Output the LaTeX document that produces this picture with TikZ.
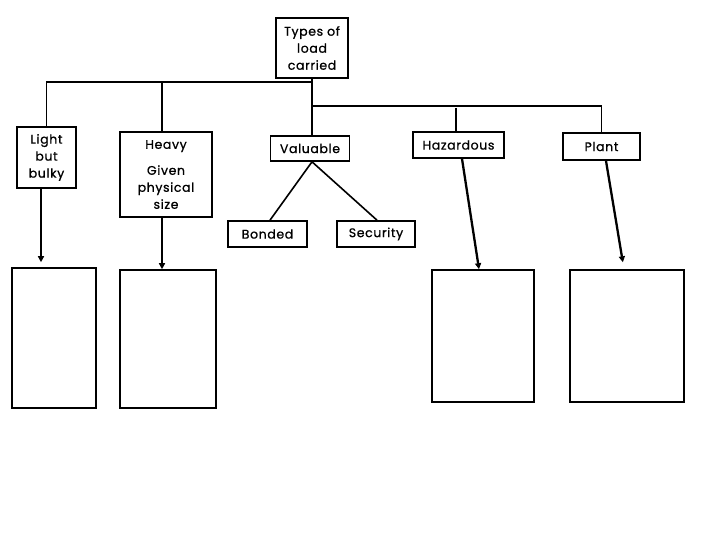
\documentclass[tikz,border=0pt]{standalone}
\usepackage{fontspec}
\setmainfont{Poppins}[LetterSpace=5, FakeBold=0.9]
\usepackage{tikz}
\usetikzlibrary{positioning, arrows.meta}
\tikzstyle{box} = [rectangle, draw=black, line width=1.6pt, inner sep=0pt,
                   text centered, align=center, font=\fontsize{12.5}{17}\selectfont]
\tikzstyle{outbox} = [rectangle, draw=black, line width=1.6pt, inner sep=0pt]
\tikzstyle{link} = [line width=1.6pt]
\tikzstyle{arrow} = [line width=1.8pt,-{Triangle[length=6pt,width=6pt]}]

\begin{document}
\begin{tikzpicture}[x=1pt, y=1pt]
\useasboundingbox (0,0) rectangle (720,540);
\node (types) [box, minimum width=72pt, minimum height=60pt] at (312,492) {Types of\\load\\carried};
\node (light) [box, minimum width=59pt, minimum height=61pt] at (46.5,382.5) {Light\\but\\bulky};
\node (heavy) [box, minimum width=92pt, minimum height=85pt] at (166,365.5) {Heavy\\[9pt]Given\\physical\\size};
\node (valuable) [box, minimum width=79pt, minimum height=25pt] at (310,391.5) {Valuable};
\node (bonded) [box, minimum width=79pt, minimum height=26pt] at (267.5,306) {Bonded};
\node (security) [box, minimum width=78pt, minimum height=26pt] at (376,306) {Security};
\node (hazardous) [box, minimum width=91pt, minimum height=26pt] at (458.5,395) {Hazardous};
\node (plant) [box, minimum width=77pt, minimum height=27pt] at (601.5,393.5) {Plant};

\node (out1) [outbox, minimum width=84pt, minimum height=140pt] at (54,202) {};
\node (out2) [outbox, minimum width=96pt, minimum height=138pt] at (168,201) {};
\node (out3) [outbox, minimum width=102pt, minimum height=132pt] at (483,204) {};
\node (out4) [outbox, minimum width=114pt, minimum height=132pt] at (627,204) {};

\coordinate (bus1) at (312,458);
\coordinate (bus2) at (312,434);
\coordinate (hz) at (456,432);

\draw [link] (types.south) -- (types.south |- valuable.north);
\draw [link] (bus1) -| (light.north);
\draw [link] (bus1) -| ([xshift=-4pt]heavy.north);
\draw [link] (bus2) -| (plant.north);
\draw [link] (hz) -- (hz |- hazardous.north);
\draw [link] ([xshift=2pt]valuable.south) -- ([xshift=2.5pt]bonded.north);
\draw [link] ([xshift=2pt]valuable.south) -- ([xshift=1pt]security.north);

\draw [arrow] ([xshift=-5.5pt]light.south) -- ([xshift=-5.5pt, yshift=5pt]light.south |- out1.north);
\draw [arrow] ([xshift=-4pt]heavy.south) -- ([xshift=-4pt]heavy.south |- out2.north);
\draw [arrow, line width=2.3pt] ([xshift=3.5pt]hazardous.south) -- ([xshift=-4pt]out3.north);
\draw [arrow, line width=2.3pt, shorten >=7pt] ([xshift=4.5pt]plant.south) -- ([xshift=-3pt]out4.north);
\end{tikzpicture}
\end{document}
